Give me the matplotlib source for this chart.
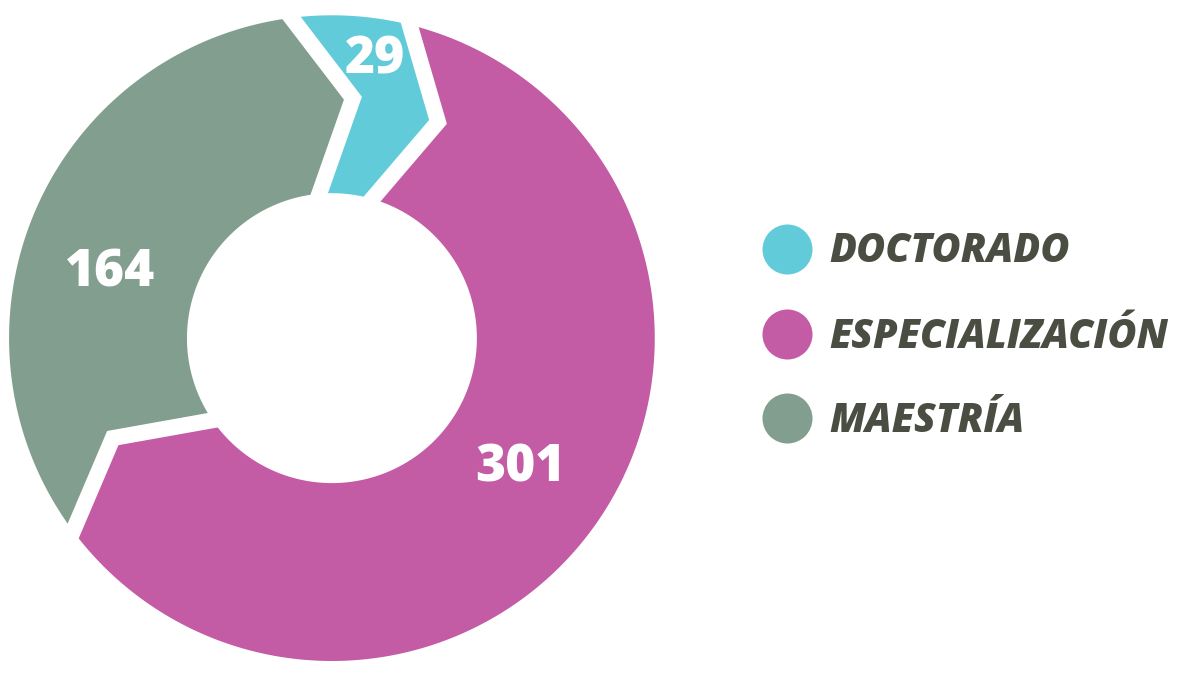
import numpy as np
import matplotlib.pyplot as plt

# Data
categories = ['DOCTORADO', 'ESPECIALIZACIÓN', 'MAESTRÍA']
values = [29, 301, 164]

# Style
colors = ['#62CBD9', '#C35BA5', '#829E8E']
text_color = '#4A4D42'
R_OUT, R_MID, R_IN = 1.0, 0.746, 0.449
START = 95.0      # first boundary angle (deg), slices go clockwise
KINK = -10.0      # angular shift of the bend at mid radius
OUT_SHIFT = 2.2   # angular shift of the separator at the outer edge
GAP = 11.5        # white gap width in points
label_r = [0.89, 0.70, 0.72]
label_shift = [-3.0, 2.5, 7.5]
FONT = dict(family=['Open Sans', 'DejaVu Sans'], weight='extra bold')


def pt(angle, r):
    a = np.radians(angle)
    return np.array([r * np.cos(a), r * np.sin(a)])


def boundary(angle):
    """ Outer -> bend -> inner points of the zigzag separator. """
    return [pt(angle + OUT_SHIFT, R_OUT), pt(angle + KINK, R_MID),
            pt(angle, R_IN)]


total = sum(values)
bounds = START - 360 * np.concatenate([[0], np.cumsum(values)]) / total

fig = plt.figure(figsize=(11.85, 6.74), dpi=100)
ax = fig.add_axes([0.0076, 0.0193, 0.545, 0.958])
ax.set_xlim(-1, 1)
ax.set_ylim(-1, 1)
ax.set_aspect('equal')
ax.axis('off')

for i, (a0, a1) in enumerate(zip(bounds[:-1], bounds[1:])):
    outer = [pt(a, R_OUT) for a in np.linspace(a0 + OUT_SHIFT, a1 + OUT_SHIFT, 200)]
    inner = [pt(a, R_IN) for a in np.linspace(a1, a0, 200)]
    end = boundary(a1)[1:2]
    start = boundary(a0)[1:2]
    poly = np.array(outer + end + inner + start)
    ax.fill(poly[:, 0], poly[:, 1], color=colors[i], lw=0, zorder=1)

# White zigzag gaps between slices
for a in bounds[:-1]:
    o, m, n = boundary(a)
    o2 = o + (o - m) * 0.3
    n2 = n + (n - m) * 0.4
    line = np.array([o2, o, m, n, n2])
    ax.plot(line[:, 0], line[:, 1], color='white', lw=GAP,
            solid_joinstyle='miter', solid_capstyle='butt', zorder=2)

# Value labels
for i, (a0, a1) in enumerate(zip(bounds[:-1], bounds[1:])):
    x, y = pt((a0 + a1) / 2 + label_shift[i], label_r[i])
    ax.text(x, y, str(values[i]), color='white', fontsize=37,
            ha='center', va='center_baseline', zorder=3, **FONT)

# Legend
leg = fig.add_axes([0, 0, 1, 1], zorder=-1)
leg.set_xlim(0, 1185)
leg.set_ylim(674, 0)
leg.axis('off')
leg_y = [249, 334, 418]
for i, name in enumerate(categories):
    leg.scatter(787, leg_y[i], s=1296, color=colors[i], lw=0)
    leg.text(829, leg_y[i] + 3, name, color=text_color, fontsize=28.5,
             ha='left', va='center', style='italic', **FONT)

fig.savefig('out.png', dpi=100)
